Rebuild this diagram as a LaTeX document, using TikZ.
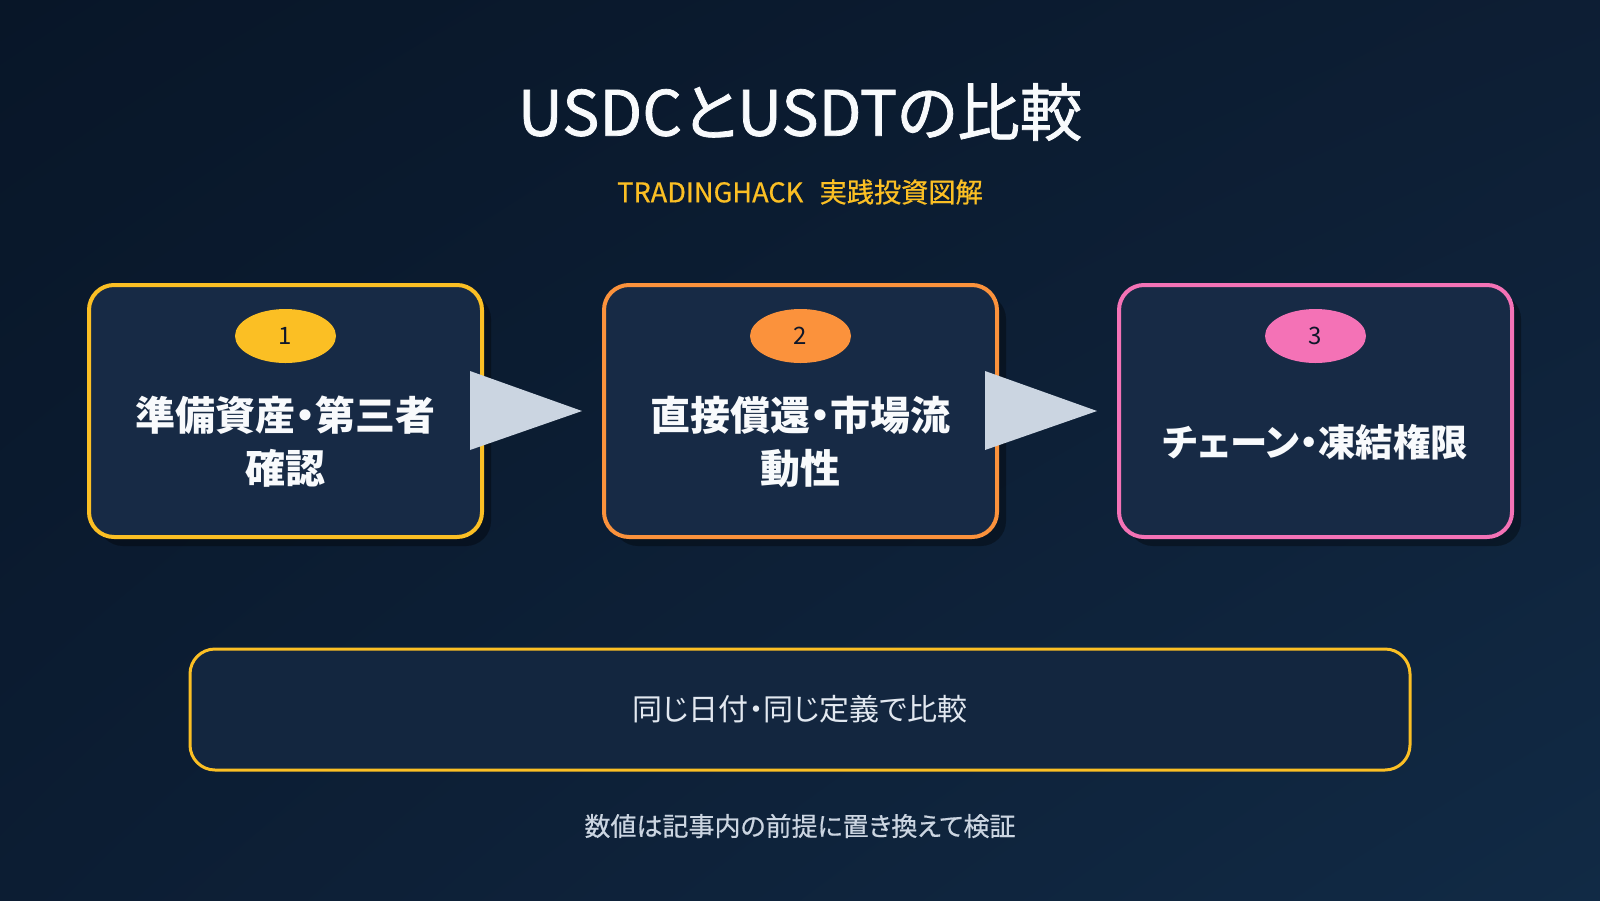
\documentclass[tikz,border=0pt]{standalone}
\usepackage{fontspec}
\setmainfont{Noto Sans CJK JP}[RawFeature=+palt]
\usetikzlibrary{shapes.geometric,shadows,shadings,calc}
\definecolor{bgA}{HTML}{081628}
\definecolor{bgB}{HTML}{0D1E34}
\definecolor{bgC}{HTML}{0C1D33}
\definecolor{bgD}{HTML}{112A45}
\definecolor{boxfill}{HTML}{172A45}
\definecolor{wide}{HTML}{13263F}
\definecolor{cyel}{HTML}{FBBF24}
\definecolor{corg}{HTML}{FB923C}
\definecolor{cpnk}{HTML}{F472B6}
\definecolor{arrowc}{HTML}{CBD5E1}
\definecolor{titlec}{HTML}{F8FAFC}
\definecolor{subtext}{HTML}{E2E8F0}
\definecolor{foot}{HTML}{CBD5E1}
\definecolor{numc}{HTML}{0F172A}
\begin{document}
\begin{tikzpicture}[x=0.5pt,y=-0.5pt,
  stepbox/.style={draw=#1, line width=2pt, fill=boxfill, rounded corners=12.5pt,
    minimum width=196.5pt, minimum height=126pt, inner sep=0pt,
    drop shadow={shadow xshift=4.5pt, shadow yshift=-4.5pt, fill=black, opacity=0.35}},
  badge/.style={ellipse, fill=#1, minimum width=50.5pt, minimum height=27pt, inner sep=0pt,
    font=\fontsize{12pt}{14pt}\selectfont, text=numc},
  steptext/.style={align=center, text=titlec, font=\fontsize{20pt}{26.5pt}\selectfont\bfseries},
  arrowtri/.style={fill=arrowc}
]
\useasboundingbox (0,0) rectangle (1600,900);
\shade[upper left=bgA, upper right=bgB, lower left=bgC, lower right=bgD] (0,0) rectangle (1600,900);

\node[text=titlec, font=\fontsize{31.2pt}{36pt}\selectfont\addfontfeatures{FakeBold=1.2}] (title) at (800,112) {USDCとUSDTの比較};
\node[text=cyel, font=\fontsize{13.6pt}{16pt}\selectfont\addfontfeatures{FakeBold=0.6}] (sub) at (800,192) {TRADINGHACK\hspace{0.6em}実践投資図解};

\node[stepbox=cyel] (b1) at (285.5,411) {};
\node[stepbox=corg] (b2) at (800.5,411) {};
\node[stepbox=cpnk] (b3) at (1315.5,411) {};

\node[badge=cyel] (n1) at (285.5,336) {1};
\node[badge=corg] (n2) at (800.5,336) {2};
\node[badge=cpnk] (n3) at (1315.5,336) {3};

\node[steptext] (t1) at (285.5,442) {準備資産・第三者\\確認};
\node[steptext] (t2) at (800.5,442) {直接償還・市場流\\動性};
\node[steptext, font=\fontsize{18.7pt}{24pt}\selectfont\bfseries] (t3) at (1315.5,442) {チェーン・凍結権限};

\fill[arrowtri] ($(b1.east)+(-14,-40)$) -- ($(b1.east)+(98,0)$) -- ($(b1.east)+(-14,39)$) -- cycle;
\fill[arrowtri] ($(b2.east)+(-14,-40)$) -- ($(b2.east)+(98,0)$) -- ($(b2.east)+(-14,39)$) -- cycle;

\node[draw=cyel, line width=1.5pt, fill=wide, rounded corners=12.5pt,
  minimum width=610pt, minimum height=60.5pt, inner sep=0pt] (wb) at (800,709.5) {};
\node[text=subtext, font=\fontsize{15pt}{17pt}\selectfont] (wt) at (wb.center) {同じ日付・同じ定義で比較};

\node[text=foot, font=\fontsize{13pt}{15pt}\selectfont\addfontfeatures{FakeBold=0.5}] (ft) at (800,826) {数値は記事内の前提に置き換えて検証};
\end{tikzpicture}
\end{document}
